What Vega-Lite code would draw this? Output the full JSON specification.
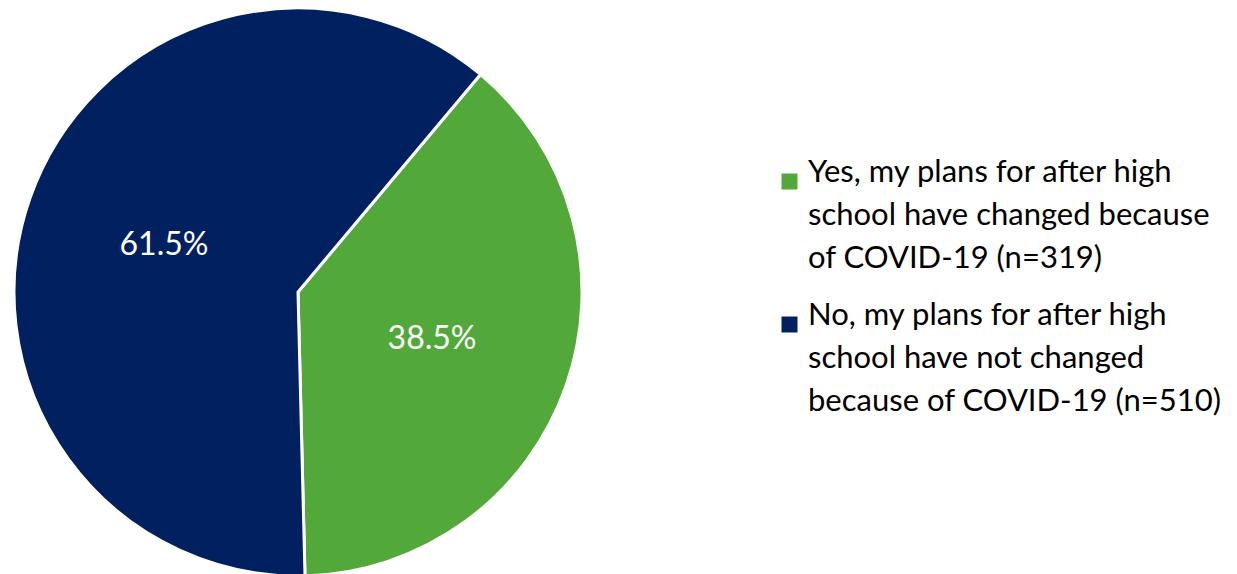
{
  "$schema": "https://vega.github.io/schema/vega-lite/v6.json",
  "width": 596,
  "height": 568,
  "padding": {"left": 0, "top": 8, "right": 641, "bottom": 0},
  "autosize": {"type": "none"},
  "background": "white",
  "data": {
    "values": [
      {"answer": "Yes", "pct": 38.5, "label": "38.5%", "order": 1},
      {"answer": "No", "pct": 61.5, "label": "61.5%", "order": 2}
    ]
  },
  "encoding": {
    "theta": {"field": "pct", "type": "quantitative", "stack": true, "scale": {"range": [0.698, 6.981]}},
    "order": {"field": "order", "type": "quantitative"}
  },
  "layer": [
    {
      "mark": {"type": "arc", "stroke": "white", "strokeWidth": 3},
      "encoding": {
        "color": {
          "field": "answer",
          "type": "nominal",
          "sort": ["Yes", "No"],
          "scale": {"domain": ["Yes", "No"], "range": ["#52A93A", "#002060"]},
          "legend": {
            "orient": "none",
            "legendX": 774,
            "legendY": 158,
            "title": null,
            "symbolType": "square",
            "symbolSize": 256,
            "symbolStrokeWidth": 0,
            "labelFont": "Lato",
            "labelFontSize": 31,
            "labelColor": "black",
            "labelBaseline": "alphabetic",
            "labelLimit": 600,
            "labelOffset": 3,
            "rowPadding": 25,
            "labelExpr": "datum.value == 'Yes' ? ['Yes, my plans for after high', 'school have changed because', 'of COVID-19 (n=319)'] : ['No, my plans for after high', 'school have not changed', 'because of COVID-19 (n=510)']"
          }
        }
      }
    },
    {
      "mark": {"type": "text", "radius": 142, "color": "white", "font": "Lato", "fontSize": 32},
      "encoding": {"text": {"field": "label"}}
    }
  ],
  "config": {
    "view": {"stroke": null},
    "style": {"guide-label": {"lineHeight": 43}}
  }
}
